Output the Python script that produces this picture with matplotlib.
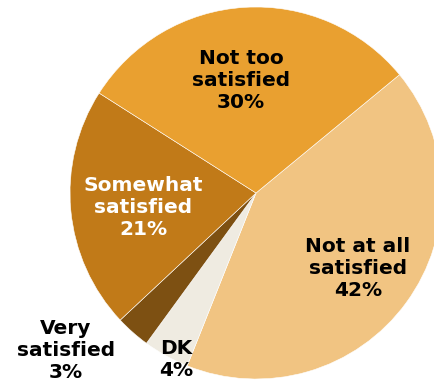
import matplotlib
import matplotlib.pyplot as plt

matplotlib.use("Agg")

labels = ["Not at all\nsatisfied\n42%", "DK\n4%", "Very\nsatisfied\n3%",
          "Somewhat\nsatisfied\n21%", "Not too\nsatisfied\n30%"]
values = [42, 4, 3, 21, 30]
colors = ["#F1C482", "#EFEBE1", "#7D5012", "#C17A18", "#E9A030"]

# label anchor positions in pixel coords (y measured from top)
label_pos = [(358, 269), (176, 359), (66, 351), (143, 208), (241, 80)]
label_colors = ["black", "black", "black", "white", "black"]

fig = plt.figure(figsize=(4.35, 3.85), dpi=100)
ax = fig.add_axes([0, 0, 1, 1])
ax.set_xlim(0, 435)
ax.set_ylim(0, 385)
ax.set_aspect("equal")
ax.axis("off")

ax.pie(values, colors=colors, startangle=39.5, counterclock=False,
       center=(256, 192), radius=186,
       wedgeprops=dict(edgecolor="white", linewidth=0.4))

for lab, (x, y), c in zip(labels, label_pos, label_colors):
    ax.text(x, 385 - y, lab, ha="center", va="center", color=c,
            fontsize=14.5, fontweight="bold", linespacing=1.2)

ax.set_xlim(0, 435)
ax.set_ylim(0, 385)
fig.savefig("out.png", dpi=100)
